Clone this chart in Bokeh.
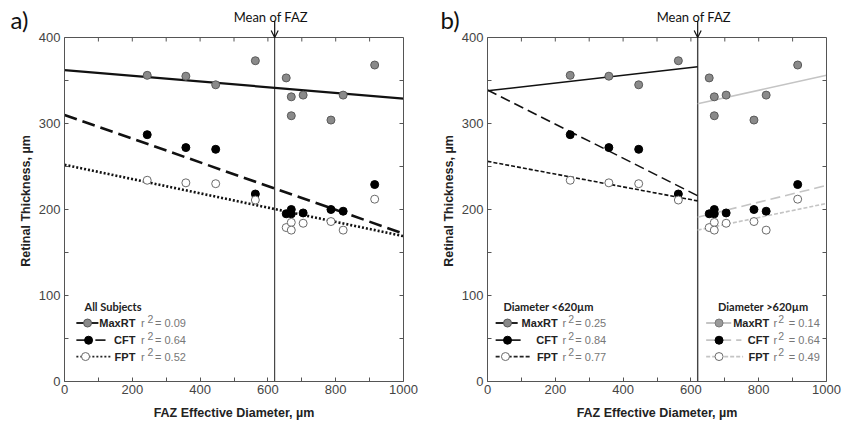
from bokeh.plotting import figure
from bokeh.layouts import row
from bokeh.models import (Label, Arrow, OpenHead, FixedTicker, Range1d,
                          LinearAxis, Title)
from bokeh.embed import file_html
from bokeh.resources import INLINE

# ---------------- data ----------------
diameter = [244, 358, 446, 563, 654, 669, 669, 704, 786, 822, 915]
maxrt = [356, 355, 345, 373, 353, 331, 309, 333, 304, 333, 368]
cft = [287, 272, 270, 218, 195, 200, 195, 196, 200, 198, 229]
fpt = [234, 231, 230, 211, 179, 185, 176, 184, 186, 176, 212]

series_names = ["MaxRT", "CFT", "FPT"]

# regression lines: x start/end and y start/end (per series)
fit_all_x = [0, 1000]
fit_all_y = {"MaxRT": [362, 329], "CFT": [310, 172], "FPT": [252, 169]}
fit_low_x = [0, 620]
fit_low_y = {"MaxRT": [338, 366], "CFT": [339, 216], "FPT": [256, 210]}
fit_high_x = [620, 1000]
fit_high_y = {"MaxRT": [323, 356], "CFT": [191, 228], "FPT": [176, 207]}

r2_all = ["0.09", "0.64", "0.52"]
r2_low = ["0.25", "0.84", "0.77"]
r2_high = ["0.14", "0.64", "0.49"]

mean_faz = 620

x_ticks = [0, 200, 400, 600, 800, 1000]
x_minor = [100, 300, 500, 700, 900]
y_ticks = [0, 100, 200, 300, 400]
y_minor = [50, 150, 250, 350]
X_MAX = 1000
Y_MAX = 400

# ---------------- styles / layout ----------------
TICK_FONT = "Liberation Sans"
DARK = "#222222"
FRAME = "#555555"
LIGHT = "#c4c4c4"
FRAME_W = 339          # px for the 0..1000 box
BOX_H = 344            # px for the 0..400 box
ARROW_PX = 17          # px above the box kept inside the frame (arrow)
BORDER_TOP = 20
FIG_H = 424
px_x = X_MAX / FRAME_W
px_y = Y_MAX / BOX_H
Y_END = Y_MAX + ARROW_PX * px_y

marker_style = {
    "MaxRT": dict(fill_color="#8a8a8a", line_color="#5a5a5a"),
    "CFT": dict(fill_color="#000000", line_color="#000000"),
    "FPT": dict(fill_color="#ffffff", line_color="#6a6a6a"),
}
light_marker_style = {
    "MaxRT": dict(fill_color="#9a9a9a", line_color="#7a7a7a"),
    "CFT": dict(fill_color="#000000", line_color="#000000"),
    "FPT": dict(fill_color="#ffffff", line_color="#6a6a6a"),
}
dash_a = {"MaxRT": "solid", "CFT": "13 6", "FPT": "2 2"}
width_a = {"MaxRT": 2.2, "CFT": 2.6, "FPT": 2.6}
dash_b = {"MaxRT": "solid", "CFT": "10 5", "FPT": "4 2"}
width_b = {"MaxRT": 1.6, "CFT": 1.6, "FPT": 1.6}


def style_axis(ax):
    ax.major_tick_in = 4
    ax.major_tick_out = 0
    ax.minor_tick_in = 4
    ax.minor_tick_out = 0
    ax.axis_line_color = FRAME
    ax.major_tick_line_color = FRAME
    ax.minor_tick_line_color = FRAME
    ax.major_label_text_font = TICK_FONT
    ax.major_label_text_font_size = "13px"
    ax.major_label_text_color = "#444444"
    ax.axis_label_text_font = TICK_FONT
    ax.axis_label_text_font_style = "bold"
    ax.axis_label_text_font_size = "12.5px"
    ax.axis_label_text_color = DARK


def make_fig(width, left, right, letter, letter_off, mean_color, mean_width):
    p = figure(width=width, height=FIG_H, x_range=Range1d(0, X_MAX),
               y_range=Range1d(0, Y_END), output_backend="svg",
               toolbar_location=None, min_border_left=left,
               min_border_right=right, min_border_top=BORDER_TOP,
               min_border_bottom=FIG_H - BORDER_TOP - BOX_H - ARROW_PX)
    p.grid.visible = False
    p.outline_line_color = None
    p.background_fill_color = "white"
    p.border_fill_color = "white"
    p.xaxis.ticker = FixedTicker(ticks=x_ticks, minor_ticks=x_minor)
    p.yaxis.ticker = FixedTicker(ticks=y_ticks, minor_ticks=y_minor)
    p.yaxis.bounds = (0, Y_MAX)
    p.xaxis.axis_label = "FAZ Effective Diameter, µm"
    p.yaxis.axis_label = "Retinal Thickness, µm"
    style_axis(p.xaxis[0])
    style_axis(p.yaxis[0])
    p.xaxis.major_label_standoff = 3
    p.xaxis.axis_label_standoff = 9
    p.yaxis.major_label_standoff = 4
    p.yaxis.axis_label_standoff = 3

    # right edge of the box: an axis line without ticks
    rt = LinearAxis(ticker=FixedTicker(ticks=[]), bounds=(0, Y_MAX),
                    axis_line_color=FRAME)
    p.add_layout(rt, "right")
    # top edge of the box
    p.line([0, X_MAX], [Y_MAX, Y_MAX], line_color=FRAME, line_width=1)

    # inward ticks on the top and right edges
    top_ticks = sorted(x_ticks + x_minor)
    p.segment(x0=top_ticks, y0=[Y_MAX] * len(top_ticks), x1=top_ticks,
              y1=[Y_MAX - 4 * px_y] * len(top_ticks), line_color=FRAME,
              line_width=1)
    right_ticks = sorted(y_ticks + y_minor)
    p.segment(x0=[X_MAX] * len(right_ticks), y0=right_ticks,
              x1=[X_MAX - 4 * px_x] * len(right_ticks), y1=right_ticks,
              line_color=FRAME, line_width=1)

    # mean of FAZ
    p.line([mean_faz, mean_faz], [0, Y_MAX], line_color=mean_color,
           line_width=mean_width)
    p.add_layout(Arrow(end=OpenHead(size=7, line_width=1.2, line_color="#111111"),
                       x_start=mean_faz, y_start=Y_END, x_end=mean_faz,
                       y_end=Y_MAX, line_width=1.2, line_color="#111111"))

    # texts above the frame (titles are not clipped by the frame)
    p.add_layout(Title(text=letter, align="left", offset=letter_off,
                       vertical_align="bottom", standoff=-26,
                       text_font="Lato", text_font_size="24px",
                       text_font_style="normal", text_color="#111111"),
                 "above")
    p.add_layout(Title(text="Mean of FAZ", align="left",
                       offset=mean_faz / px_x - 41,
                       vertical_align="bottom", standoff=-18,
                       text_font="Lato", text_font_size="13px",
                       text_font_style="normal", text_color="#111111"),
                 "above")
    return p


def draw_points(p):
    ys = {"MaxRT": maxrt, "CFT": cft, "FPT": fpt}
    for name in series_names:
        p.scatter(diameter, ys[name], marker="circle", size=8, line_width=1,
                  **marker_style[name])


def draw_legend(p, title, title_x, sample, marker_x, label_right, r_x, sup_x,
                eq_x, r2_vals, colors, dashes, mstyle):
    rows_y = [68, 48, 29]
    p.add_layout(Label(x=title_x, y=87, text=title, text_align="left",
                       text_baseline="middle", text_font="Lato",
                       text_font_style="bold", text_font_size="11px",
                       text_color=DARK))
    for i, name in enumerate(series_names):
        yy = rows_y[i]
        p.line([sample[i][0], sample[i][1]], [yy, yy], line_color=colors[i],
               line_width=1.8, line_dash=dashes[name])
        p.scatter([marker_x[i]], [yy], marker="circle", size=8, line_width=1,
                  **mstyle[name])
        p.add_layout(Label(x=label_right, y=yy, text=name, text_align="right",
                           text_baseline="middle", text_font=TICK_FONT,
                           text_font_style="bold", text_font_size="11px",
                           text_color=DARK))
        p.add_layout(Label(x=r_x, y=yy, text="r", text_align="left",
                           text_baseline="middle", text_font=TICK_FONT,
                           text_font_size="11px", text_color="#777777"))
        p.add_layout(Label(x=sup_x, y=yy + 5, text="2", text_align="left",
                           text_baseline="middle", text_font=TICK_FONT,
                           text_font_size="10.5px", text_color="#777777"))
        p.add_layout(Label(x=eq_x, y=yy, text="= " + r2_vals[i],
                           text_align="left", text_baseline="middle",
                           text_font=TICK_FONT, text_font_size="11px",
                           text_color="#777777"))


# ---------------- panel a ----------------
pa = make_fig(430, 64, 27, "a)", -54, "#222222", 1)
for name in series_names:
    pa.line(fit_all_x, fit_all_y[name], line_color="#111111",
            line_width=width_a[name], line_dash=dash_a[name])
draw_points(pa)
draw_legend(pa, "All Subjects", 59,
            [(35, 100), (35, 121), (35, 136)], [68, 71, 62], 209, 226, 245, 267,
            r2_all, ["#222222"] * 3, dash_a, marker_style)

# ---------------- panel b ----------------
pb = make_fig(416, 57, 416 - 57 - FRAME_W, "b)", -47, "#444444", 1.4)
for name in series_names:
    pb.line(fit_low_x, fit_low_y[name], line_color="#111111",
            line_width=width_b[name], line_dash=dash_b[name])
    pb.line(fit_high_x, fit_high_y[name], line_color=LIGHT,
            line_width=width_b[name], line_dash=dash_b[name])
draw_points(pb)
draw_legend(pb, "Diameter <620µm", 47,
            [(24, 89), (24, 112), (24, 127)], [59, 59, 53], 207, 221, 238, 259,
            r2_low, ["#222222"] * 3, dash_b, marker_style)
draw_legend(pb, "Diameter >620µm", 680,
            [(645, 719), (645, 749), (645, 754)], [683, 683, 683], 831, 844,
            858, 889, r2_high, [LIGHT] * 3, dash_b, light_marker_style)

layout = row(pa, pb)
open("out.html", "w").write(file_html(layout, INLINE))
